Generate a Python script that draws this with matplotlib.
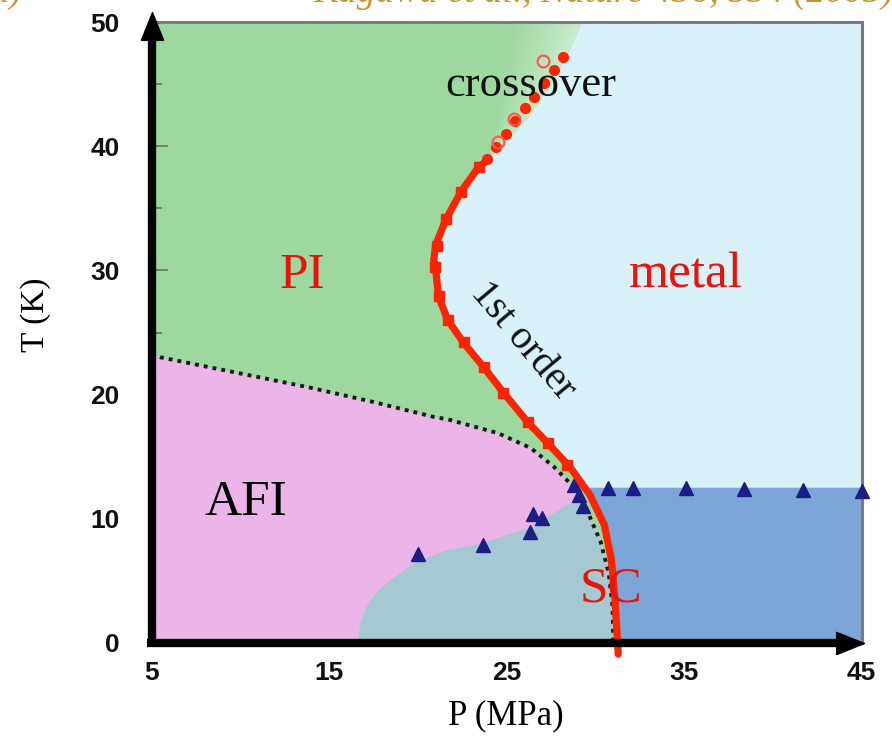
import numpy as np
import matplotlib
matplotlib.use("Agg")
import matplotlib.pyplot as plt
from matplotlib.ticker import MultipleLocator

# ---------------- data ----------------
first_order_P = [23.93, 23.42, 22.41, 21.56, 21.0, 20.89, 21.0, 21.17, 21.68, 22.58,
                 23.7, 24.83, 26.18, 27.31, 28.6, 29.7, 30.5, 30.9, 31.1, 31.25, 31.28]
first_order_T = [38.89, 38.32, 36.31, 34.06, 32.04, 30.84, 30.03, 27.86, 26.01, 24.15,
                 22.22, 20.13, 17.79, 16.1, 14.1, 11.9, 9.5, 6.7, 3.5, 0.0, -0.9]

first_order_marker_P = [23.42, 22.41, 21.56, 21.1, 20.95, 21.17, 21.7, 22.6, 23.7, 24.8, 26.2, 27.3, 28.4]
first_order_marker_T = [38.3, 36.3, 34.1, 32.0, 30.3, 27.9, 26.0, 24.2, 22.2, 20.1, 17.8, 16.1, 14.3]

crossover_P = [23.87, 24.38, 24.94, 25.45, 26.01, 26.52, 27.08, 27.65, 28.15]
crossover_T = [39.0, 39.9, 41.0, 42.0, 43.1, 44.0, 45.1, 46.1, 47.2]
crossover_open_P = [24.49, 25.39, 27.03]
crossover_open_T = [40.3, 42.2, 46.9]

afi_P = [5.0, 5.5, 10.0, 13.8, 17.5, 20.9, 21.7, 24.5, 26.35, 27.65, 28.4, 29.2, 29.7,
         30.3, 30.75, 30.97, 31.0]
afi_T = [23.3, 23.0, 21.7, 20.6, 19.4, 18.2, 18.0, 16.9, 15.7, 14.2, 13.1, 11.8, 10.1,
         8.1, 5.6, 2.9, 0.0]

coexist_P = [16.6, 16.75, 17.1, 17.6, 18.4, 19.76, 21.5, 23.5, 26.35, 28.6, 29.1]
coexist_T = [0.0, 1.5, 2.9, 4.0, 5.0, 6.4, 7.4, 8.0, 9.3, 11.3, 11.9]

sc_top_T = 12.5

band_T = [38.89, 42.0, 45.0, 48.0, 50.0]
band_left_P = [23.93, 24.4, 24.8, 25.1, 25.3]
band_right_P = [23.93, 26.0, 27.5, 28.6, 29.2]

sc_tri_P = [20.0, 23.65, 26.3, 26.5, 27.0, 28.8, 29.05, 29.3, 30.7, 32.1, 35.1, 38.35, 41.7, 45.0]
sc_tri_T = [7.2, 7.9, 8.9, 10.4, 10.1, 12.7, 11.9, 11.0, 12.5, 12.5, 12.5, 12.4, 12.3, 12.2]

x_ticks = [5, 15, 25, 35, 45]
y_ticks = [0, 10, 20, 30, 40, 50]

# ---------------- colours ----------------
c_green = "#9dd89f"
c_green_light = "#c8eacd"
c_cyan = "#d9f2f9"
c_pink = "#ebb5e7"
c_teal = "#a5c9d3"
c_blue = "#7da6d8"
c_red = "#ff2400"
c_text_red = "#e8140c"
c_navy = "#1d1d86"

serif = ["Liberation Serif", "DejaVu Serif"]

fig = plt.figure(figsize=(8.92, 7.38), dpi=100)
ax = fig.add_axes([151.7 / 892, 95 / 738, 710 / 892, 621 / 738])
ax.set_xlim(5, 45)
ax.set_ylim(0, 50)
ax.set_facecolor(c_cyan)

# crossover gradient band (drawn first, green region drawn over its left part)
L = np.array(band_left_P)
R = np.array(band_right_P)
n = 12
g0 = np.array(matplotlib.colors.to_rgb(c_green))
g1 = np.array(matplotlib.colors.to_rgb(c_green_light))
for k in range(n):
    f = (k + 0.5) / n
    col = g0 + (g1 - g0) * f
    ax.fill_betweenx(band_T, L + (R - L) * k / n, L + (R - L) * (k + 1) / n,
                     color=col, edgecolor=col, lw=0.6, zorder=1)

# green (PI) region: left of first-order line and crossover band
fo_P = np.array(first_order_P)
fo_T = np.array(first_order_T)
mask = fo_T >= 0
gP = [5.0] + list(fo_P[mask][::-1]) + band_left_P[1:] + [5.0]
gT = [0.0] + list(fo_T[mask][::-1]) + band_T[1:] + [50.0]
ax.fill(gP, gT, color=c_green, edgecolor=c_green, lw=0.6, zorder=1.5)

# AFI (pink)
ax.fill_between(afi_P, 0, afi_T, color=c_pink, lw=0, zorder=2)

# AFI/SC coexistence (teal)
aP = np.array(afi_P)
aT = np.array(afi_T)
tP = list(coexist_P) + list(aP[aP > coexist_P[-1]]) + [coexist_P[0]]
tT = list(coexist_T) + list(aT[aP > coexist_P[-1]]) + [0.0]
ax.fill(tP, tT, color=c_teal, lw=0, zorder=2)

# SC (blue) right of first-order line, below sc_top_T
P_int = np.interp(sc_top_T, fo_T[::-1], fo_P[::-1])
sel = (fo_T < sc_top_T) & (fo_T >= 0)
sP = [P_int] + list(fo_P[sel]) + [45.0, 45.0]
sT = [sc_top_T] + list(fo_T[sel]) + [0.0, sc_top_T]
ax.fill(sP, sT, color=c_blue, lw=0, zorder=2)

# dotted AFI boundary
ax.plot(afi_P, afi_T, color="#1a1a1a", lw=2.8, ls=(0, (1, 1.3)), dash_capstyle="butt", zorder=4)

# SC onset triangles
ax.plot(sc_tri_P, sc_tri_T, "^", ms=10, color=c_navy, mec=c_navy, zorder=5, clip_on=False)

# crossover points
ax.plot(crossover_P, crossover_T, "o", ms=7, color=c_red, mec=c_red, zorder=6)
ax.plot(crossover_open_P, crossover_open_T, "o", ms=8.5, mfc="none", mec="#ff5a50",
        mew=1.6, zorder=6)

# first-order line
ax.plot(first_order_P, first_order_T, color=c_red, lw=5.2, solid_capstyle="round",
        solid_joinstyle="round", zorder=7, clip_on=False)
ax.plot(first_order_marker_P, first_order_marker_T, "s", ms=7.5, color=c_red, mec=c_red, zorder=7)

# region labels
ax.text(13.5, 29.6, "PI", color=c_text_red, fontsize=37, family=serif, ha="center", va="center", zorder=8)
ax.text(35.1, 29.6, "metal", color=c_text_red, fontsize=37, family=serif, ha="center", va="center", zorder=8)
ax.text(10.3, 11.3, "AFI", color="black", fontsize=37, family=serif, ha="center", va="center", zorder=8)
ax.text(30.86, 4.3, "SC", color=c_text_red, fontsize=37, family=serif, ha="center", va="center", zorder=8)
ax.text(26.35, 44.9, "crossover", color="#111111", fontsize=32, family=serif, ha="center", va="center", zorder=8)
ax.text(25.9, 24.3, "1st order", color="#111111", fontsize=29, family=serif, ha="center", va="center",
        rotation=-50, rotation_mode="anchor", zorder=8)

# axes styling
for s in ["left", "bottom"]:
    ax.spines[s].set_visible(False)
for s in ["top", "right"]:
    ax.spines[s].set_color("#7a7a7a")
    ax.spines[s].set_linewidth(2.2)

ax.set_xticks(x_ticks)
ax.set_yticks(y_ticks)
ax.xaxis.set_minor_locator(MultipleLocator(5))
ax.yaxis.set_minor_locator(MultipleLocator(5))
ax.tick_params(which="both", direction="in", color="#666666", width=1.1, top=False, right=False)
ax.tick_params(which="major", length=11.5)
ax.tick_params(which="minor", length=7)
ax.tick_params(axis="x", which="major", pad=13)
ax.tick_params(axis="y", which="major", pad=23)
for lab in ax.get_xticklabels() + ax.get_yticklabels():
    lab.set_family(["Liberation Sans Narrow", "Liberation Sans", "DejaVu Sans"])
    lab.set_fontweight("bold")
    lab.set_fontsize(19)
    lab.set_color("#111111")

ax.set_xlabel("P (MPa)", family=serif, fontsize=25)
ax.set_ylabel("T (K)", family=serif, fontsize=24)
ax.xaxis.set_label_coords(0.4986, -0.090)
ax.yaxis.set_label_coords(-0.142, 0.528)

# axis arrows (decoration)
ax.plot([-0.006, 0.975], [0, 0], transform=ax.transAxes, color="black", lw=6,
        solid_capstyle="butt", clip_on=False, zorder=9)
ax.plot([0, 0], [-0.006, 0.975], transform=ax.transAxes, color="black", lw=6,
        solid_capstyle="butt", clip_on=False, zorder=9)
head_r = [(-1, -0.8), (1, 0), (-1, 0.8), (-1, -0.8)]
head_u = [(-0.8, -1), (0, 1), (0.8, -1), (-0.8, -1)]
ax.plot([0.983], [0], marker=head_r, ms=20, color="black", transform=ax.transAxes,
        clip_on=False, zorder=9)
ax.plot([0], [0.9936], marker=head_u, ms=20, color="black", transform=ax.transAxes,
        clip_on=False, zorder=9)

# partially visible citation line at the very top of the slide
fig.text(22 / 892, 1 - 2 / 738, "(a)", ha="right", va="baseline", fontsize=27,
         family=serif, style="italic", color="#c9973a")
fig.text(313 / 892, 1 - 2 / 738, "Kagawa et al., Nature 436, 534 (2005)", ha="left",
         va="baseline", fontsize=27, family=serif, style="italic", color="#c9973a")

fig.savefig("out.png", dpi=100)
